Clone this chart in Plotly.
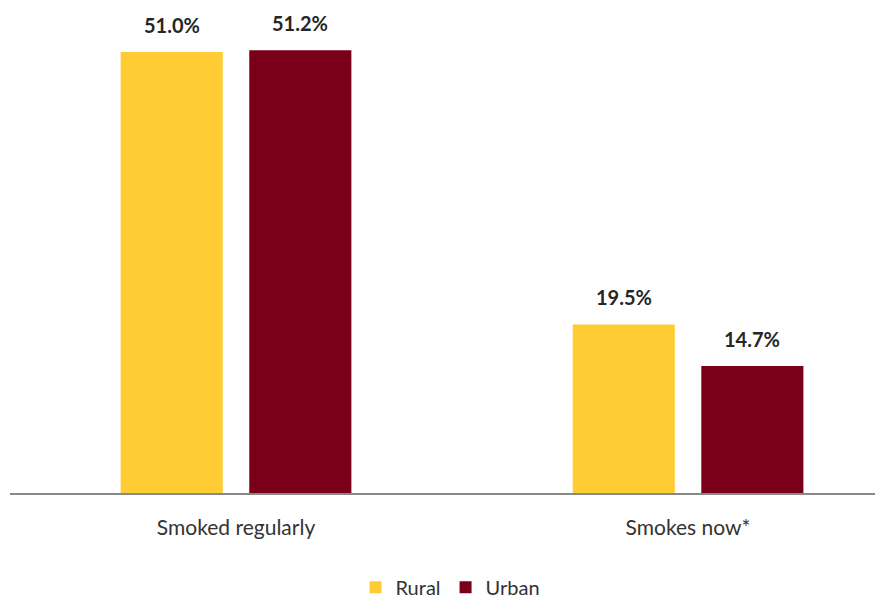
import plotly.graph_objects as go

# data
categories = ["Smoked regularly", "Smokes now*"]
series_names = ["Rural", "Urban"]
rural = [51.0, 19.5]
urban = [51.2, 14.7]

colors = {"Rural": "#FFCC33", "Urban": "#7A0019"}
font_family = "Lato, Roboto, sans-serif"

fig = go.Figure()
for name, vals in zip(series_names, [rural, urban]):
    fig.add_trace(go.Bar(
        x=categories, y=vals, name=name,
        marker=dict(color=colors[name], line=dict(width=0)),
    ))

# value labels above each bar
annotations = []
for i, (name, vals) in enumerate(zip(series_names, [rural, urban])):
    shift = -64 if i == 0 else 64
    for cat, v in zip(categories, vals):
        annotations.append(dict(
            x=cat, y=v, text=f"<b>{v:.1f}%</b>", showarrow=False,
            xshift=shift, yshift=13, yanchor="bottom",
            font=dict(family=font_family, size=20, color="#262626"),
        ))

fig.update_layout(
    width=883, height=601,
    margin=dict(l=2, r=0, t=2, b=116),
    plot_bgcolor="white", paper_bgcolor="white",
    barmode="group", bargap=0.431, bargroupgap=0.206,
    annotations=annotations,
    font=dict(family=font_family, size=21, color="#333333"),
    showlegend=True,
    legend=dict(orientation="h", x=0.5, xanchor="center", y=-0.155, yanchor="top",
                font=dict(size=20, color="#333333"), itemwidth=30, traceorder="normal"),
)
fig.update_xaxes(range=[-0.5, 1.449], showline=True, linecolor="#898989", linewidth=1.5,
                 ticks="", ticklabelstandoff=15, showgrid=False)
fig.update_yaxes(range=[0, 55.86], visible=False, showgrid=False)

fig.write_html("out.html")
